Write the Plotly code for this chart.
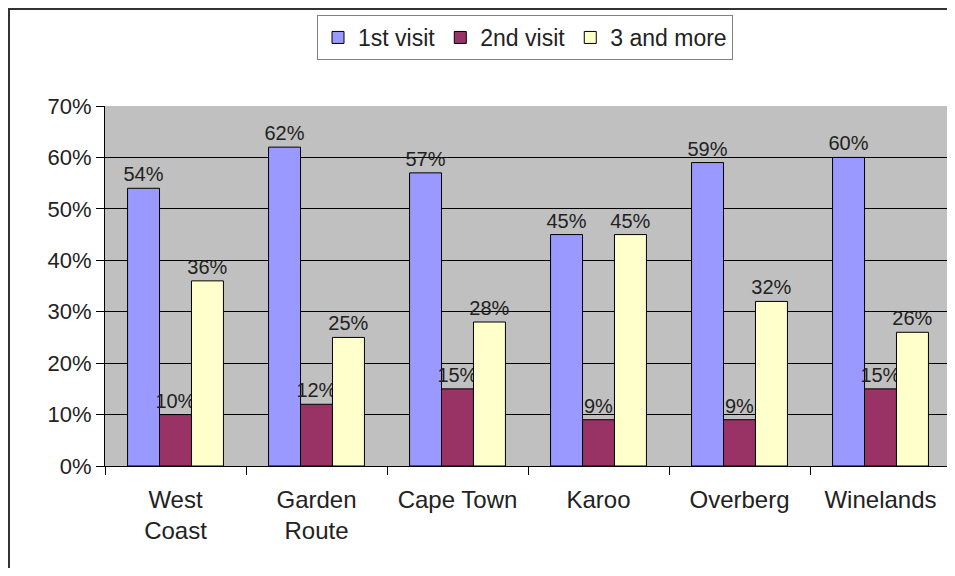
import plotly.graph_objects as go

regions = ["West<br>Coast", "Garden<br>Route", "Cape Town", "Karoo", "Overberg", "Winelands"]
first_visit = [54, 62, 57, 45, 59, 60]
second_visit = [10, 12, 15, 9, 9, 15]
three_more = [36, 25, 28, 45, 32, 26]
y_ticks = [0, 10, 20, 30, 40, 50, 60, 70]
y_tick_labels = [f"{v}%" for v in y_ticks]

series = [
    ("1st visit", first_visit, "#9999FF"),
    ("2nd visit", second_visit, "#993366"),
    ("3 and more", three_more, "#FFFFCC"),
]

FONT = "Liberation Sans, Arial, sans-serif"

fig = go.Figure()
for name, vals, col in series:
    fig.add_trace(go.Bar(
        name=name, x=regions, y=vals,
        marker=dict(color=col, line=dict(color="black", width=1)),
        text=[f"{v}%" for v in vals], textposition="outside",
        constraintext="none",
        textfont=dict(family=FONT, size=20, color="#222"),
        cliponaxis=False,
    ))

OFF = 8  # page body margin
FW, FH = 947, 560
L, R, T, B = 97, 4, 98, 102
W, H = FW - L - R, FH - T - B

def px(page_x):
    return (page_x - OFF - L) / W

def py(page_y):
    return (FH - B - (page_y - OFF)) / H

fig.update_layout(
    width=FW, height=FH,
    margin=dict(l=L, r=R, t=T, b=B, autoexpand=False),
    paper_bgcolor="white", plot_bgcolor="#C0C0C0",
    barmode="group", bargap=0.32, bargroupgap=0,
    font=dict(family=FONT, color="#222"),
    showlegend=True,
    legend=dict(
        orientation="h", x=px(525), xanchor="center", y=py(15), yanchor="top",
        font=dict(family=FONT, size=23, color="#222"),
        bordercolor="#808080", borderwidth=1, bgcolor="white",
        itemwidth=30, tracegroupgap=0,
    ),
    xaxis=dict(
        showline=True, linecolor="black", linewidth=1,
        ticks="outside", tickson="boundaries", ticklen=8, tickcolor="black",
        tickfont=dict(family=FONT, size=24, color="#222"),
        ticklabelstandoff=12,
    ),
    yaxis=dict(
        range=[0, 70], tickvals=y_ticks, ticktext=y_tick_labels,
        showline=True, linecolor="black", linewidth=1,
        showgrid=True, gridcolor="black", gridwidth=1,
        ticks="outside", ticklen=8, tickcolor="black",
        tickfont=dict(family=FONT, size=22, color="#222"),
        zeroline=False,
    ),
    shapes=[
        dict(type="rect", xref="paper", yref="paper",
             x0=px(9), x1=px(1000), y0=py(9), y1=py(700),
             line=dict(color="#333", width=2), fillcolor="rgba(0,0,0,0)", layer="below"),
    ],
)

fig.write_html("out.html")
